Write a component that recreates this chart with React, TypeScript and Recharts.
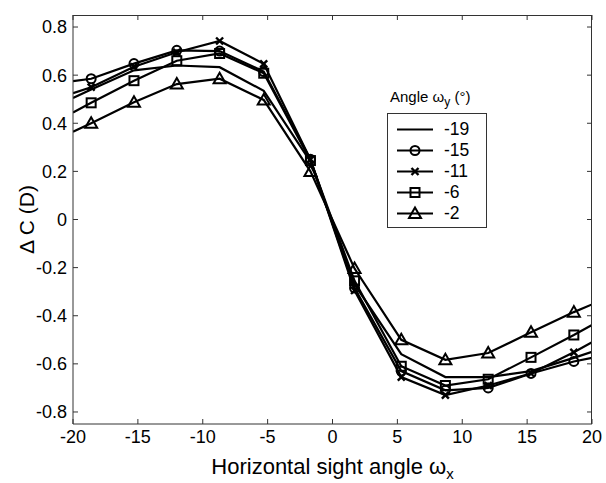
import React from "react";
import { LineChart, Line, XAxis, YAxis, Legend } from "recharts";

// horizontal sight angle (deg); the end points sit on the frame edges
const angleX = [-20, -18.6, -15.3, -12, -8.7, -5.3, -1.7, 1.7, 5.3, 8.7, 12, 15.3, 18.6, 20];

const dc19 = [0.505, 0.54, 0.62, 0.64, 0.633, 0.535, 0.24, -0.27, -0.56, -0.655, -0.655, -0.63, -0.575, -0.55];
const dc15 = [0.575, 0.585, 0.648, 0.703, 0.7, 0.615, 0.25, -0.285, -0.63, -0.71, -0.7, -0.64, -0.59, -0.575];
const dc11 = [0.525, 0.55, 0.635, 0.695, 0.742, 0.647, 0.25, -0.295, -0.655, -0.73, -0.69, -0.64, -0.552, -0.51];
const dc6 = [0.445, 0.485, 0.577, 0.66, 0.69, 0.608, 0.245, -0.255, -0.61, -0.69, -0.664, -0.573, -0.48, -0.438];
const dc2 = [0.365, 0.4, 0.487, 0.563, 0.585, 0.497, 0.2, -0.204, -0.5, -0.583, -0.555, -0.469, -0.385, -0.353];

const xTicks = [-20, -15, -10, -5, 0, 5, 10, 15, 20];
const yTicks = [-0.8, -0.6, -0.4, -0.2, 0, 0.2, 0.4, 0.6, 0.8];
const xDomain = [-20, 20];
const yDomain = [-0.85, 0.85];

const seriesInfo = [
  { key: "s19", label: "-19", marker: "none" },
  { key: "s15", label: "-15", marker: "circle" },
  { key: "s11", label: "-11", marker: "cross" },
  { key: "s6", label: "-6", marker: "square" },
  { key: "s2", label: "-2", marker: "triangle" },
];

const data = angleX.map((x, i) => ({
  x,
  s19: dc19[i],
  s15: dc15[i],
  s11: dc11[i],
  s6: dc6[i],
  s2: dc2[i],
}));

const W = 606;
const H = 483;
const M = { top: 15, right: 14, left: 0, bottom: 0 };
const Y_AXIS_W = 73;
const X_AXIS_H = 59;
// plot rectangle, follows from the margins and axis sizes above
const plot = {
  left: M.left + Y_AXIS_W,
  right: W - M.right,
  top: M.top,
  bottom: H - M.bottom - X_AXIS_H,
};
const PW = plot.right - plot.left;
const PH = plot.bottom - plot.top;

const FONT = "'Liberation Sans', Arial, Helvetica, sans-serif";
const INK = "#000";
const FRAME = "#333";

const Marker = ({ kind, cx, cy }: { kind: string; cx: number; cy: number }) => {
  const sw = 2;
  if (kind === "circle")
    return <circle cx={cx} cy={cy} r={4.5} fill="none" stroke={INK} strokeWidth={sw} />;
  if (kind === "square")
    return <rect x={cx - 4.5} y={cy - 4.5} width={9} height={9} fill="none" stroke={INK} strokeWidth={sw} />;
  if (kind === "triangle")
    return (
      <polygon
        points={`${cx},${cy - 6} ${cx - 6},${cy + 4.5} ${cx + 6},${cy + 4.5}`}
        fill="none"
        stroke={INK}
        strokeWidth={sw}
      />
    );
  if (kind === "cross")
    return (
      <g stroke={INK} strokeWidth={2.4}>
        <line x1={cx - 3.5} y1={cy - 3.5} x2={cx + 3.5} y2={cy + 3.5} />
        <line x1={cx - 3.5} y1={cy + 3.5} x2={cx + 3.5} y2={cy - 3.5} />
      </g>
    );
  return null;
};

const makeDot = (kind: string) => (props: any) => {
  const { cx, cy, payload, index } = props;
  if (payload.x <= -20 || payload.x >= 20) return <g key={index} />;
  return (
    <g key={index}>
      <Marker kind={kind} cx={cx} cy={cy} />
    </g>
  );
};

const XLabel = (props: any) => {
  const { x, y, width } = props.viewBox;
  return (
    <text x={x + width / 2} y={y + 50} textAnchor="middle" fontSize={22} fontFamily={FONT} fill={INK}>
      Horizontal sight angle ω
      <tspan dy={5} fontSize={15}>x</tspan>
    </text>
  );
};

const YLabel = (props: any) => {
  const { y, height } = props.viewBox;
  const cx = 26;
  const cy = y + height / 2;
  return (
    <text
      x={cx}
      y={cy}
      transform={`rotate(-90 ${cx} ${cy})`}
      textAnchor="middle"
      dominantBaseline="central"
      fontSize={21}
      fontFamily={FONT}
      fill={INK}
    >
      Δ C (D)
    </text>
  );
};

// legend box plus the top / right edges of the MATLAB-style frame with inward ticks
const FrameAndLegend = () => {
  const px = (v: number) => ((v - xDomain[0]) / (xDomain[1] - xDomain[0])) * PW;
  const py = (v: number) => PH - ((v - yDomain[0]) / (yDomain[1] - yDomain[0])) * PH;
  return (
    <div style={{ position: "relative", width: PW, height: PH, fontFamily: FONT, color: INK }}>
      <svg width={PW + 1} height={PH + 1} style={{ position: "absolute", left: 0, top: 0, overflow: "visible" }}>
        <g stroke={FRAME} strokeWidth={1} fill="none">
          <line x1={0} y1={0.5} x2={PW} y2={0.5} />
          <line x1={PW - 0.5} y1={0} x2={PW - 0.5} y2={PH} />
          {xTicks.map((t) => (
            <line key={`tx${t}`} x1={px(t)} y1={0} x2={px(t)} y2={5} />
          ))}
          {yTicks.map((t) => (
            <line key={`ty${t}`} x1={PW} y1={py(t)} x2={PW - 5} y2={py(t)} />
          ))}
        </g>
      </svg>
      <div style={{ position: "absolute", left: 387 - plot.left, top: 86 - plot.top, width: 100 }}>
        <div style={{ fontSize: 15, marginLeft: 3, height: 27, lineHeight: "22px", whiteSpace: "nowrap" }}>
          Angle ω<sub style={{ fontSize: 12 }}>y</sub> (°)
        </div>
        <div style={{ border: "1px solid #333", padding: "5px 0 3px 0", width: 98, background: "#fff" }}>
          {seriesInfo.map((s) => (
            <div key={s.key} style={{ display: "flex", alignItems: "center", height: 21 }}>
              <svg width={52} height={21} style={{ display: "block" }}>
                <line x1={9} y1={10.5} x2={45} y2={10.5} stroke={INK} strokeWidth={2.2} />
                <Marker kind={s.marker} cx={27} cy={10.5} />
              </svg>
              <span style={{ fontSize: 17.5, marginLeft: 4 }}>{s.label}</span>
            </div>
          ))}
        </div>
      </div>
    </div>
  );
};

const fmtY = (v: number) => (v === 0 ? "0" : v.toFixed(1));

const App: React.FC = () => {
  return (
    <div style={{ position: "absolute", left: 0, top: 0, width: W, height: H, background: "#fff" }}>
      <LineChart width={W} height={H} data={data} margin={M}>
        <XAxis
          dataKey="x"
          type="number"
          domain={xDomain}
          ticks={xTicks}
          allowDataOverflow
          height={X_AXIS_H}
          tickSize={-5}
          tickMargin={11}
          stroke={FRAME}
          tick={{ fill: INK, fontSize: 18, fontFamily: FONT }}
          label={<XLabel />}
        />
        <YAxis
          type="number"
          domain={yDomain}
          ticks={yTicks}
          allowDataOverflow
          width={Y_AXIS_W}
          tickSize={-5}
          tickMargin={11}
          tickFormatter={fmtY}
          stroke={FRAME}
          tick={{ fill: INK, fontSize: 18, fontFamily: FONT }}
          label={<YLabel />}
        />
        <Legend
          layout="horizontal"
          verticalAlign="middle"
          align="center"
          content={() => <FrameAndLegend />}
          wrapperStyle={{
            position: "absolute",
            left: plot.left,
            top: plot.top,
            width: PW,
            height: PH,
            pointerEvents: "none",
          }}
        />
        {seriesInfo.map((s) => (
          <Line
            key={s.key}
            dataKey={s.key}
            type="linear"
            stroke={INK}
            strokeWidth={2.2}
            dot={s.marker === "none" ? false : makeDot(s.marker)}
            activeDot={false}
            isAnimationActive={false}
          />
        ))}
      </LineChart>
    </div>
  );
};

export default App;
